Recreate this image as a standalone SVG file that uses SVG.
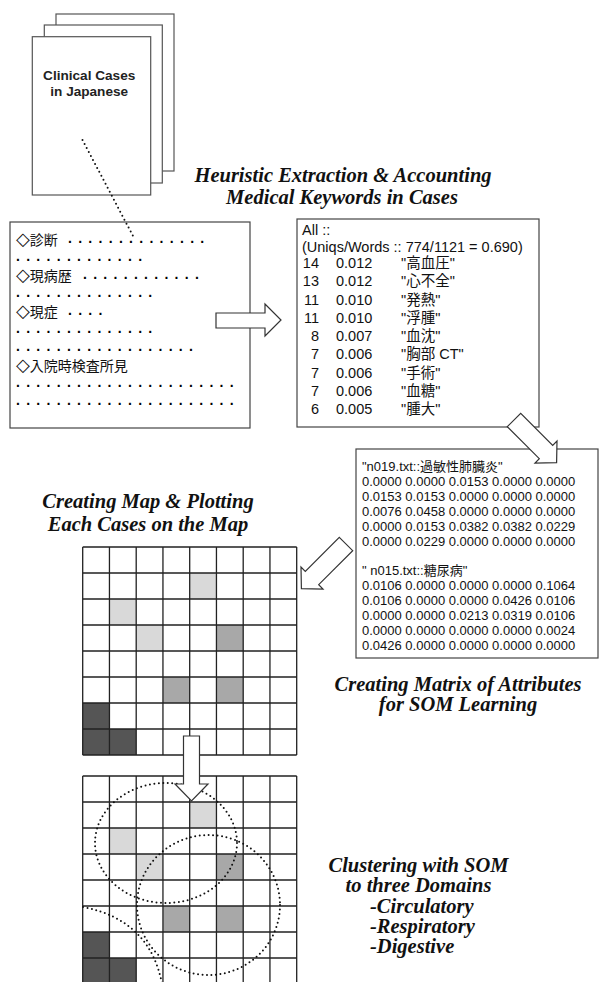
<svg xmlns="http://www.w3.org/2000/svg" width="599" height="982" viewBox="0 0 599 982">
<defs>
<style>
.doc{fill:#fff;stroke:#555;stroke-width:1.2}
.box{fill:#fff;stroke:#444;stroke-width:1.2}
.arrow{fill:#fff;stroke:#333;stroke-width:1.2;stroke-linejoin:miter}
.title{font-family:"Liberation Serif",serif;font-weight:bold;font-style:italic;font-size:20.5px;fill:#111}
.mid{text-anchor:middle}
.doct{font-family:"Liberation Sans",sans-serif;font-weight:bold;font-size:13.6px;fill:#222;text-anchor:middle}
.jp{font-family:"Noto Sans CJK JP","Liberation Sans",sans-serif;font-size:14px;fill:#111}
.dia{font-family:"DejaVu Sans",sans-serif;font-size:18px;fill:#111}
.dots{font-family:"Liberation Sans",sans-serif;font-size:14px;font-weight:bold;letter-spacing:1.2px;fill:#000}
.kw{font-family:"Liberation Sans","Noto Sans CJK JP",sans-serif;font-size:14.5px;fill:#111}
.end{text-anchor:end}
.mx{font-family:"Liberation Sans","Noto Sans CJK JP",sans-serif;font-size:13px;fill:#111}
.gl{fill:none;stroke:#222;stroke-width:1.3}
.lt{fill:#d9d9d9}.md{fill:#a8a8a8}.dk{fill:#555}
.dotted{fill:none;stroke:#111;stroke-width:2;stroke-dasharray:0 4.5;stroke-linecap:round}
</style>
<g id="cells">
<rect class="lt" x="189.7" y="26" width="26.75" height="26"/>
<rect class="lt" x="109.45" y="52" width="26.75" height="26"/>
<rect class="lt" x="136.2" y="78" width="26.75" height="26"/>
<rect class="md" x="216.45" y="78" width="26.75" height="26"/>
<rect class="md" x="162.95" y="130" width="26.75" height="26"/>
<rect class="md" x="216.45" y="130" width="26.75" height="26"/>
<rect class="dk" x="82.7" y="156" width="26.75" height="26"/>
<rect class="dk" x="82.7" y="182" width="26.75" height="26"/>
<rect class="dk" x="109.45" y="182" width="26.75" height="26"/>
<path class="gl" d="M82.7 0V208M109.45 0V208M136.2 0V208M162.95 0V208M189.7 0V208M216.45 0V208M243.2 0V208M269.95 0V208M296.7 0V208M82.7 0H296.7M82.7 26H296.7M82.7 52H296.7M82.7 78H296.7M82.7 104H296.7M82.7 130H296.7M82.7 156H296.7M82.7 182H296.7M82.7 208H296.7"/>
</g>
</defs>

<g id="clinical-cases">
<rect class="doc" x="56" y="14" width="118" height="157"/>
<rect class="doc" x="44.3" y="25" width="118" height="158"/>
<rect class="doc" x="32.3" y="36.7" width="118.4" height="158.3"/>
<text class="doct" x="89.2" y="80">Clinical Cases</text>
<text class="doct" x="89.2" y="96">in Japanese</text>
</g>

<g id="title-extraction">
<text class="title mid" x="343" y="182">Heuristic Extraction &amp; Accounting</text>
<text class="title mid" x="342" y="203.5">Medical Keywords in Cases</text>
</g>

<g id="case-text">
<rect class="box" x="10" y="222" width="240" height="206"/>
<text class="jp" x="16" y="245"><tspan class="dia">◇</tspan>診断</text>
<text class="dots" x="68" y="243">. . . . . . . . . . . . . .</text>
<text class="dots" x="16" y="261">. . . . . . . . . . . . .</text>
<text class="jp" x="16" y="281"><tspan class="dia">◇</tspan>現病歴</text>
<text class="dots" x="83" y="279">. . . . . . . . . . . .</text>
<text class="dots" x="16" y="297">. . . . . . . . . . . . . .</text>
<text class="jp" x="16" y="317"><tspan class="dia">◇</tspan>現症</text>
<text class="dots" x="68" y="315">. . . .</text>
<text class="dots" x="16" y="333">. . . . . . . . . . . . . .</text>
<text class="dots" x="16" y="351">. . . . . . . . . . . . . . . . . .</text>
<text class="jp" x="16" y="371"><tspan class="dia">◇</tspan>入院時検査所見</text>
<text class="dots" x="16" y="387">. . . . . . . . . . . . . . . . . . . . . .</text>
<text class="dots" x="16" y="405">. . . . . . . . . . . . . . . . . . . . . .</text>
</g>

<g id="keyword-counts">
<rect class="box" x="297" y="219" width="242" height="208"/>
<text class="kw" x="302" y="235">All ::</text>
<text class="kw" x="302" y="251.5">(Uniqs/Words :: 774/1121 = 0.690)</text>
<g class="kw">
<text class="end" x="319" y="268">14</text><text x="336" y="268">0.012</text><text x="401" y="268">"高血圧"</text>
<text class="end" x="319" y="286.25">13</text><text x="336" y="286.25">0.012</text><text x="401" y="286.25">"心不全"</text>
<text class="end" x="319" y="304.5">11</text><text x="336" y="304.5">0.010</text><text x="401" y="304.5">"発熱"</text>
<text class="end" x="319" y="322.75">11</text><text x="336" y="322.75">0.010</text><text x="401" y="322.75">"浮腫"</text>
<text class="end" x="319" y="341">8</text><text x="336" y="341">0.007</text><text x="401" y="341">"血沈"</text>
<text class="end" x="319" y="359.25">7</text><text x="336" y="359.25">0.006</text><text x="401" y="359.25">"胸部 CT"</text>
<text class="end" x="319" y="377.5">7</text><text x="336" y="377.5">0.006</text><text x="401" y="377.5">"手術"</text>
<text class="end" x="319" y="395.75">7</text><text x="336" y="395.75">0.006</text><text x="401" y="395.75">"血糖"</text>
<text class="end" x="319" y="414">6</text><text x="336" y="414">0.005</text><text x="401" y="414">"腫大"</text>
</g>
</g>

<g id="attribute-matrix">
<rect class="box" x="356" y="449" width="242" height="209"/>
<g class="mx">
<text x="362" y="470.5">"n019.txt::過敏性肺臓炎"</text>
<text x="362" y="485.5">0.0000 0.0000 0.0153 0.0000 0.0000</text>
<text x="362" y="500.5">0.0153 0.0153 0.0000 0.0000 0.0000</text>
<text x="362" y="515.5">0.0076 0.0458 0.0000 0.0000 0.0000</text>
<text x="362" y="530.5">0.0000 0.0153 0.0382 0.0382 0.0229</text>
<text x="362" y="545.5">0.0000 0.0229 0.0000 0.0000 0.0000</text>
<text x="362" y="574.5">" n015.txt::糖尿病"</text>
<text x="362" y="589.5">0.0106 0.0000 0.0000 0.0000 0.1064</text>
<text x="362" y="604.5">0.0106 0.0000 0.0000 0.0426 0.0106</text>
<text x="362" y="619.5">0.0000 0.0000 0.0213 0.0319 0.0106</text>
<text x="362" y="634.5">0.0000 0.0000 0.0000 0.0000 0.0024</text>
<text x="362" y="649.5">0.0426 0.0000 0.0000 0.0000 0.0000</text>
</g>
</g>

<g id="title-matrix">
<text class="title mid" x="458" y="691">Creating Matrix of Attributes</text>
<text class="title mid" x="458" y="711">for SOM Learning</text>
</g>

<g id="title-map">
<text class="title mid" x="148" y="508">Creating Map &amp; Plotting</text>
<text class="title mid" x="148" y="531">Each Cases on the Map</text>
</g>

<g id="som-map">
<use href="#cells" y="547"/>
</g>

<g id="som-clusters">
<use href="#cells" y="776"/>
<ellipse class="dotted" cx="166" cy="843" rx="71" ry="60"/>
<ellipse class="dotted" cx="208.5" cy="905" rx="71.5" ry="70"/>
<path class="dotted" d="M83 907Q150 920 162 984"/>
</g>

<g id="title-clustering">
<text class="title mid" x="418.5" y="872">Clustering with SOM</text>
<text class="title mid" x="418.5" y="892">to three Domains</text>
<text class="title" x="370" y="913">-Circulatory</text>
<text class="title" x="370" y="933">-Respiratory</text>
<text class="title" x="370" y="953">-Digestive</text>
</g>

<g id="connectors">
<path class="dotted" d="M82.5 140L133 236"/>
<polygon class="arrow" points="216,313 265,313 265,304 281,320 265,336 265,328 216,328"/>
<polygon class="arrow" points="507.3,426.7 520.7,413.3 552.7,445.3 557,441 556.6,462.6 535,463 539.3,458.7"/>
<polygon class="arrow" points="339.3,537.3 352.7,550.7 318.7,584.7 323,589 301.4,588.6 301,567 305.3,571.3"/>
<polygon class="arrow" points="183.5,736 199.5,736 199.5,784 208,784 191.5,801 175,784 183.5,784"/>
</g>
</svg>
